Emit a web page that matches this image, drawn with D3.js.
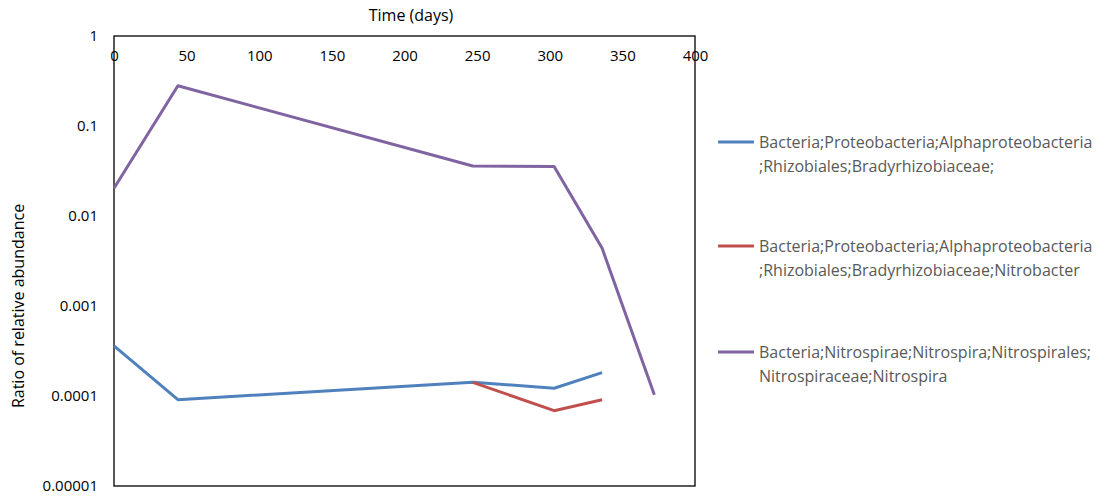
<!DOCTYPE html>
<html>
<head>
<meta charset="utf-8">
<script src="https://cdn.jsdelivr.net/npm/d3@7"></script>
<style>
  body { margin: 0; background: #fff; }
  text { font-family: "Open Sans", sans-serif; }
</style>
</head>
<body>
<script>
// days of sampling
var days = [0, 44, 247, 303, 336, 372];

// series values, null = no value
var bradyrhizobiaceae = [0.00036, 0.000091, 0.000142, 0.000122, 0.000182, null];
var nitrobacter = [null, null, 0.000142, 0.0000687, 0.000091, null];
var nitrospira = [0.0203, 0.28, 0.036, 0.0355, 0.0044, 0.000103];

var series_names = [
    ["Bacteria;Proteobacteria;Alphaproteobacteria", ";Rhizobiales;Bradyrhizobiaceae;"],
    ["Bacteria;Proteobacteria;Alphaproteobacteria", ";Rhizobiales;Bradyrhizobiaceae;Nitrobacter"],
    ["Bacteria;Nitrospirae;Nitrospira;Nitrospirales;", "Nitrospiraceae;Nitrospira"]
];
var series_colors = ["#4f81bd", "#c0504d", "#8064a2"];

var x_ticks = [0, 50, 100, 150, 200, 250, 300, 350, 400];
var y_ticks = [1, 0.1, 0.01, 0.001, 0.0001, 0.00001];
var y_tick_labels = ["1", "0.1", "0.01", "0.001", "0.0001", "0.00001"];

var width = 1111, height = 497;
var margin = {top: 36, left: 114, right: 416, bottom: 11};

var svg = d3.select("body").append("svg")
    .attr("width", width)
    .attr("height", height);

var x = d3.scaleLinear()
    .domain([0, 400])
    .range([margin.left, width - margin.right]);

var y = d3.scaleLog()
    .domain([0.00001, 1])
    .range([height - margin.bottom, margin.top]);

//plot frame
svg.append("rect")
    .attr("x", x(0))
    .attr("y", y(1))
    .attr("width", x(400) - x(0))
    .attr("height", y(0.00001) - y(1))
    .attr("fill", "none")
    .attr("stroke", "#000")
    .attr("stroke-width", 1.3);

// x axis sits on top, labels drawn below the line
var xAxis = svg.append("g")
    .attr("transform", `translate(0,${y(1)})`)
    .call(d3.axisBottom(x).tickValues(x_ticks).tickSize(0).tickPadding(14));
xAxis.select(".domain").remove();
xAxis.selectAll("text")
    .attr("font-family", "'Open Sans', sans-serif")
    .attr("font-size", 15)
    .attr("fill", "#000");

var yAxis = svg.append("g")
    .attr("transform", `translate(${x(0)},0)`)
    .call(d3.axisLeft(y).tickValues(y_ticks).tickFormat((d, i) => y_tick_labels[i]).tickSize(0).tickPadding(16));
yAxis.select(".domain").remove();
yAxis.selectAll("text")
    .attr("font-family", "'Open Sans', sans-serif")
    .attr("font-size", 15)
    .attr("fill", "#000");

//axis titles
svg.append("text")
    .attr("x", 411)
    .attr("y", 21)
    .attr("text-anchor", "middle")
    .attr("font-size", 16)
    .text("Time (days)");

svg.append("text")
    .attr("transform", "translate(24,306) rotate(-90)")
    .attr("text-anchor", "middle")
    .attr("font-size", 16)
    .text("Ratio of relative abundance");

// lines
var line = d3.line()
    .defined(d => d[1] !== null)
    .x(d => x(d[0]))
    .y(d => y(d[1]));

[bradyrhizobiaceae, nitrobacter, nitrospira].forEach((values, i) => {
    svg.append("path")
        .datum(days.map((d, j) => [d, values[j]]))
        .attr("fill", "none")
        .attr("stroke", series_colors[i])
        .attr("stroke-width", 3)
        .attr("stroke-linejoin", "round")
        .attr("d", line);
});

// legend
var legend_y = [142, 246, 352];
series_names.forEach((name, i) => {
    let g = svg.append("g").attr("transform", `translate(718,${legend_y[i]})`);
    g.append("line")
        .attr("x1", 0).attr("x2", 36)
        .attr("stroke", series_colors[i])
        .attr("stroke-width", 3);
    name.forEach((part, k) => {
        g.append("text")
            .attr("x", 41)
            .attr("y", k * 24 + 6)
            .attr("font-size", 16)
            .attr("fill", "#595959")
            .text(part);
    });
});
</script>
</body>
</html>
